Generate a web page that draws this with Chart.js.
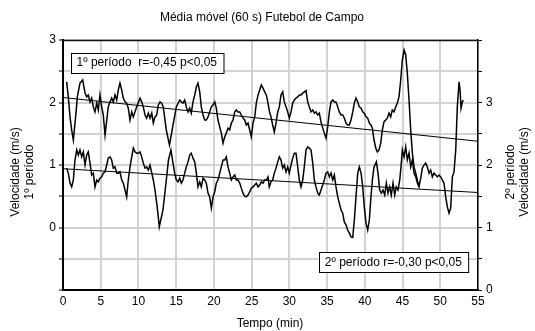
<!DOCTYPE html>
<html>
<head>
<meta charset="utf-8">
<script src="https://cdn.jsdelivr.net/npm/chart.js@4.4.1/dist/chart.umd.min.js"></script>
<style>
  html, body { margin: 0; padding: 0; background: #fff; }
</style>
</head>
<body>
<canvas id="myChart" width="535" height="331"></canvas>
<script>
// 1st period (left axis) - time in minutes, moving average speed in m/s
const p1Time = [0.49,0.70,0.93,1.15,1.37,1.72,1.90,2.25,2.61,2.92,
  3.14,3.35,3.58,3.80,4.02,4.24,4.47,4.68,4.90,5.13,
  5.34,5.57,6.00,6.23,6.45,6.67,6.89,7.12,7.33,7.55,
  7.78,7.99,8.22,8.44,8.65,8.88,9.11,9.32,9.54,9.77,
  10.21,10.43,10.64,10.87,11.09,11.31,11.53,11.76,11.97,12.19,
  12.42,12.63,12.86,13.08,13.29,13.69,14.11,14.58,15.02,15.47,
  15.68,15.90,16.13,16.34,16.57,16.79,17.00,17.23,17.46,17.67,
  17.89,18.12,18.33,18.56,18.78,18.99,19.22,19.44,19.66,19.88,
  20.11,20.32,20.54,20.77,20.98,21.21,21.43,21.64,21.87,22.09,
  22.31,22.53,22.76,22.97,23.19,23.42,23.63,23.86,24.08,24.29,
  24.52,24.74,24.96,25.18,25.41,25.62,25.85,26.07,26.28,26.51,
  26.73,26.95,27.17,27.37,27.57,27.79,28.01,28.23,28.46,28.67,
  28.89,29.12,29.33,29.56,29.78,29.99,30.22,30.44,30.66,30.88,
  31.11,31.32,31.54,31.77,31.98,32.21,32.43,32.64,32.87,33.10,
  33.31,33.53,33.76,33.97,34.19,34.42,34.63,34.86,35.08,35.30,
  35.52,35.75,35.96,36.18,36.41,36.62,36.85,37.07,37.28,37.51,
  37.73,37.95,38.17,38.40,38.61,38.83,39.06,39.27,39.50,39.72,
  39.93,40.16,40.38,40.60,40.82,41.00,41.22,41.45,41.66,41.88,
  42.11,42.32,42.54,42.77,42.98,43.21,43.43,43.64,43.87,44.10,
  44.31,44.53,44.76,44.97,45.20,45.42,45.63,45.86,46.08,46.30,
  46.52,46.75,46.96,47.18]
const p1Speed = [2.33,2.09,1.77,1.56,1.40,1.83,2.09,2.31,2.36,2.15,
  2.09,2.12,2.01,2.07,1.93,1.85,1.99,1.88,2.12,1.93,
  1.80,1.48,1.93,2.01,2.07,2.01,2.12,2.04,2.20,2.31,
  2.20,2.07,2.01,1.99,1.91,1.72,1.85,1.77,1.85,1.93,
  2.07,2.01,1.93,1.80,1.75,1.83,1.75,1.83,1.67,1.77,
  1.80,1.96,2.01,1.99,1.93,1.56,1.32,1.64,1.93,2.04,
  2.01,1.99,2.04,1.93,1.85,1.91,1.83,2.01,2.12,2.25,
  2.31,2.17,1.93,1.80,1.72,1.72,1.77,1.85,1.93,1.96,
  2.01,1.91,1.72,1.61,1.51,1.35,1.45,1.51,1.59,1.56,
  1.67,1.72,1.85,1.88,1.85,1.85,1.80,1.75,1.72,1.64,
  1.67,1.56,1.45,1.67,1.77,1.99,2.12,2.20,2.28,2.23,
  2.17,2.12,1.99,1.85,1.77,1.64,1.53,1.67,1.85,1.93,
  2.12,2.17,2.01,1.93,1.85,1.75,1.85,1.99,2.04,2.07,
  2.09,2.12,2.12,2.15,2.17,2.19,2.01,1.93,1.85,1.88,
  1.83,1.85,1.80,1.83,1.69,1.59,1.51,1.43,1.61,1.85,
  2.01,2.04,2.01,2.01,1.93,1.85,1.80,1.80,1.75,1.67,
  1.64,1.64,1.72,1.85,1.99,2.07,2.01,1.93,1.91,1.85,
  1.83,1.77,1.75,1.67,1.64,1.59,1.40,1.27,1.21,1.24,
  1.35,1.56,1.69,1.72,1.75,1.83,1.77,1.88,1.85,1.93,
  1.99,2.09,2.36,2.68,2.84,2.76,2.47,2.04,1.56,1.19,
  0.97,0.87,0.76,0.65]

// 2nd period (right axis)
const p2Time = [0.49,0.70,0.93,1.15,1.37,1.59,1.82,2.03,2.25,2.48,
  2.69,2.92,3.14,3.35,3.58,3.80,4.02,4.24,4.47,4.68,
  4.90,5.13,5.34,5.57,5.79,6.00,6.23,6.45,6.67,6.89,
  7.12,7.33,7.55,7.78,7.99,8.22,8.44,8.65,8.88,9.11,
  9.32,9.54,9.77,9.98,10.21,10.43,10.64,10.87,11.09,11.31,
  11.53,11.76,11.97,12.19,12.42,12.63,12.76,13.25,13.69,13.98,
  14.31,14.58,14.80,15.02,15.24,15.47,15.68,15.90,16.13,16.34,
  16.57,16.79,17.00,17.23,17.46,17.67,17.89,18.12,18.33,18.56,
  18.78,18.99,19.22,19.44,19.66,19.88,20.11,20.32,20.54,20.77,
  20.98,21.21,21.43,21.64,21.87,22.09,22.31,22.53,22.76,22.97,
  23.19,23.42,23.63,23.86,24.08,24.29,24.52,24.74,24.96,25.18,
  25.41,25.62,25.85,26.07,26.28,26.51,26.73,26.95,27.17,27.34,
  27.57,27.79,28.01,28.23,28.46,28.67,28.89,29.12,29.33,29.56,
  29.78,29.99,30.22,30.44,30.66,30.88,31.11,31.32,31.54,31.77,
  31.98,32.21,32.43,32.64,32.87,33.10,33.31,33.53,33.76,33.97,
  34.19,34.42,34.63,34.86,35.08,35.30,35.52,35.75,35.96,36.18,
  36.41,36.62,36.85,37.07,37.28,37.51,37.73,37.95,38.17,38.40,
  38.61,38.83,39.06,39.27,39.50,39.72,39.93,40.16,40.38,40.60,
  40.78,41.00,41.22,41.53,41.75,41.97,42.19,42.41,42.64,42.85,
  43.07,43.30,43.51,43.74,43.96,44.17,44.40,44.63,44.84,44.97,
  45.20,45.42,45.63,45.86,46.08,46.30,46.52,46.75,46.96,47.18,
  47.41,47.62,47.85,48.07,48.28,48.51,48.73,48.95,49.17,49.40,
  49.61,49.83,50.06,50.27,50.50,50.72,50.94,51.16,51.38,51.60,
  51.82,52.05,52.26,52.49,52.62,52.75,52.92,53.05]
const p2Speed = [1.95,1.87,1.71,1.65,1.76,2.08,2.24,2.16,2.24,2.13,
  2.21,2.00,2.16,2.21,2.03,1.84,1.87,1.65,1.76,1.73,
  1.79,1.81,1.87,1.89,2.00,2.11,2.13,2.08,1.95,1.97,
  1.87,1.87,1.89,1.76,1.71,1.60,1.49,1.76,1.97,2.13,
  2.27,2.21,2.19,2.19,2.21,2.13,2.03,1.95,1.97,1.92,
  2.00,1.87,1.76,1.60,1.39,1.17,1.01,1.28,1.76,2.08,
  2.24,2.03,1.87,1.76,1.73,1.79,1.71,1.76,1.87,1.97,
  2.05,2.16,2.19,2.11,2.05,1.87,1.65,1.73,1.65,1.79,
  1.76,1.71,1.55,1.49,1.31,1.49,1.57,1.71,1.76,1.87,
  1.97,2.08,2.08,2.13,1.97,1.87,1.76,1.81,1.84,1.76,
  1.76,1.71,1.63,1.55,1.50,1.49,1.52,1.57,1.63,1.65,
  1.68,1.71,1.65,1.68,1.73,1.71,1.76,1.76,1.81,1.65,
  1.73,1.76,1.87,1.95,2.05,2.13,2.08,1.95,2.00,1.89,
  1.97,1.87,2.00,2.11,2.19,2.19,1.97,1.76,1.65,1.76,
  1.97,2.24,2.29,2.27,2.24,2.03,1.76,1.65,1.55,1.52,
  1.60,1.68,1.76,1.87,1.89,1.81,1.87,1.76,1.84,1.65,
  1.49,1.39,1.28,1.23,1.09,1.04,0.96,0.91,0.85,0.84,
  1.12,1.49,1.87,1.97,1.87,1.65,1.33,1.07,0.96,1.12,
  1.44,1.76,1.97,2.05,1.87,1.60,1.55,1.60,1.52,1.71,
  1.55,1.65,1.52,1.71,1.52,1.65,1.60,1.76,2.03,2.24,
  2.13,2.29,2.08,2.19,1.97,2.08,1.87,1.81,1.71,1.65,
  1.79,1.95,2.00,2.03,1.97,1.87,1.92,1.81,1.87,1.84,
  1.81,1.84,1.81,1.76,1.71,1.49,1.33,1.23,1.31,1.81,
  1.89,2.24,2.93,3.33,3.20,2.91,3.01,3.04]

// regression lines (start / end of the time axis)
const trendTime = [0, 55]
const p1Trend = [2.08, 1.38]
const p2Trend = [1.94, 1.56]

const xTicks = [0, 5, 10, 15, 20, 25, 30, 35, 40, 45, 50, 55]
const p1Label = '1º período  r=-0,45 p<0,05'
const p2Label = '2º período r=-0,30 p<0,05'

const toPoints = (xs, ys) => xs.map((x, i) => ({ x: x, y: ys[i] }))

const FONT = "'Liberation Sans', Arial, sans-serif"
Chart.defaults.font.family = FONT
Chart.defaults.font.size = 12
Chart.defaults.color = '#000'

const extras = {
  id: 'extras',
  afterDatasetsDraw(chart) {
    const ctx = chart.ctx
    const x = chart.scales.x
    const y = chart.scales.y
    const y2 = chart.scales.y2
    const a = chart.chartArea
    ctx.save()
    // frame top
    ctx.strokeStyle = '#111'
    ctx.lineWidth = 1.5
    ctx.beginPath()
    ctx.moveTo(a.left, a.top + 0.5)
    ctx.lineTo(a.right, a.top + 0.5)
    ctx.stroke()
    // label boxes
    ctx.font = '12px ' + FONT
    ctx.textBaseline = 'middle'
    const box = (label, left, top) => {
      const w = ctx.measureText(label).width + 12
      ctx.fillStyle = '#fff'
      ctx.fillRect(left, top, w, 20)
      ctx.strokeStyle = '#000'
      ctx.lineWidth = 1
      ctx.strokeRect(Math.round(left) + 0.5, Math.round(top) + 0.5, w, 20)
      ctx.fillStyle = '#000'
      ctx.fillText(label, left + 6, top + 10.5)
    }
    box(p1Label, x.getPixelForValue(1), y.getPixelForValue(2.8))
    box(p2Label, x.getPixelForValue(33.9), y2.getPixelForValue(0.61))
    ctx.restore()
  },
  afterDraw(chart) {
    const ctx = chart.ctx
    const mid = (chart.chartArea.top + chart.chartArea.bottom) / 2 + 7
    ctx.save()
    ctx.fillStyle = '#000'
    ctx.textAlign = 'center'
    ctx.textBaseline = 'middle'
    ctx.font = '12px ' + FONT
    ctx.fillText('Média móvel (60 s) Futebol de Campo', 262, 18)
    ctx.fillText('Tempo (min)', 270, 324)
    const vtext = (t, cx) => {
      ctx.save()
      ctx.translate(cx, mid)
      ctx.rotate(-Math.PI / 2)
      ctx.fillText(t, 0, 0)
      ctx.restore()
    }
    vtext('Velocidade (m/s)', 16)
    vtext('1º período', 30)
    vtext('2º período', 511)
    vtext('Velocidade (m/s)', 525)
    ctx.restore()
  }
}

const ctx = document.getElementById('myChart')
// eslint-disable-next-line no-unused-vars
const myChart = new Chart(ctx, {
  type: 'line',
  data: {
    datasets: [
      { data: toPoints(p1Time, p1Speed), yAxisID: 'y', borderColor: '#000', borderWidth: 1.5, pointRadius: 0, tension: 0 },
      { data: toPoints(p2Time, p2Speed), yAxisID: 'y2', borderColor: '#000', borderWidth: 1.5, pointRadius: 0, tension: 0 },
      { data: toPoints(trendTime, p1Trend), yAxisID: 'y', borderColor: '#000', borderWidth: 1, pointRadius: 0 },
      { data: toPoints(trendTime, p2Trend), yAxisID: 'y2', borderColor: '#000', borderWidth: 1, pointRadius: 0 }
    ]
  },
  options: {
    responsive: false,
    animation: false,
    layout: { padding: { top: 40, left: 0, right: 0, bottom: 0 } },
    plugins: {
      legend: { display: false },
      tooltip: { enabled: false },
      title: { display: false }
    },
    scales: {
      x: {
        type: 'linear',
        min: 0,
        max: 55,
        afterBuildTicks: s => { s.ticks = xTicks.map(v => ({ value: v })) },
        afterFit: s => { s.height = 41 },
        ticks: { padding: 4, maxRotation: 0, autoSkip: false },
        grid: { color: '#d2d2d2', lineWidth: 2, drawTicks: false },
        border: { color: '#000', width: 2 }
      },
      y: {
        position: 'left',
        min: -1,
        max: 3,
        afterFit: s => { s.width = 63 },
        ticks: { stepSize: 0.5, padding: 3, callback: v => (Number.isInteger(v) && v >= 0 ? v : '') },
        grid: { color: '#d2d2d2', lineWidth: 2, tickColor: '#000', tickLength: 4, tickWidth: 1 },
        border: { color: '#000', width: 2 }
      },
      y2: {
        position: 'right',
        min: 0,
        max: 4,
        afterFit: s => { s.width = 57 },
        ticks: { stepSize: 0.5, padding: 4, callback: v => (Number.isInteger(v) && v < 4 ? v : '') },
        grid: { drawOnChartArea: false, tickColor: '#000', tickLength: 4, tickWidth: 1 },
        border: { color: '#000', width: 1.5 }
      }
    }
  },
  plugins: [extras]
})
</script>
</body>
</html>
